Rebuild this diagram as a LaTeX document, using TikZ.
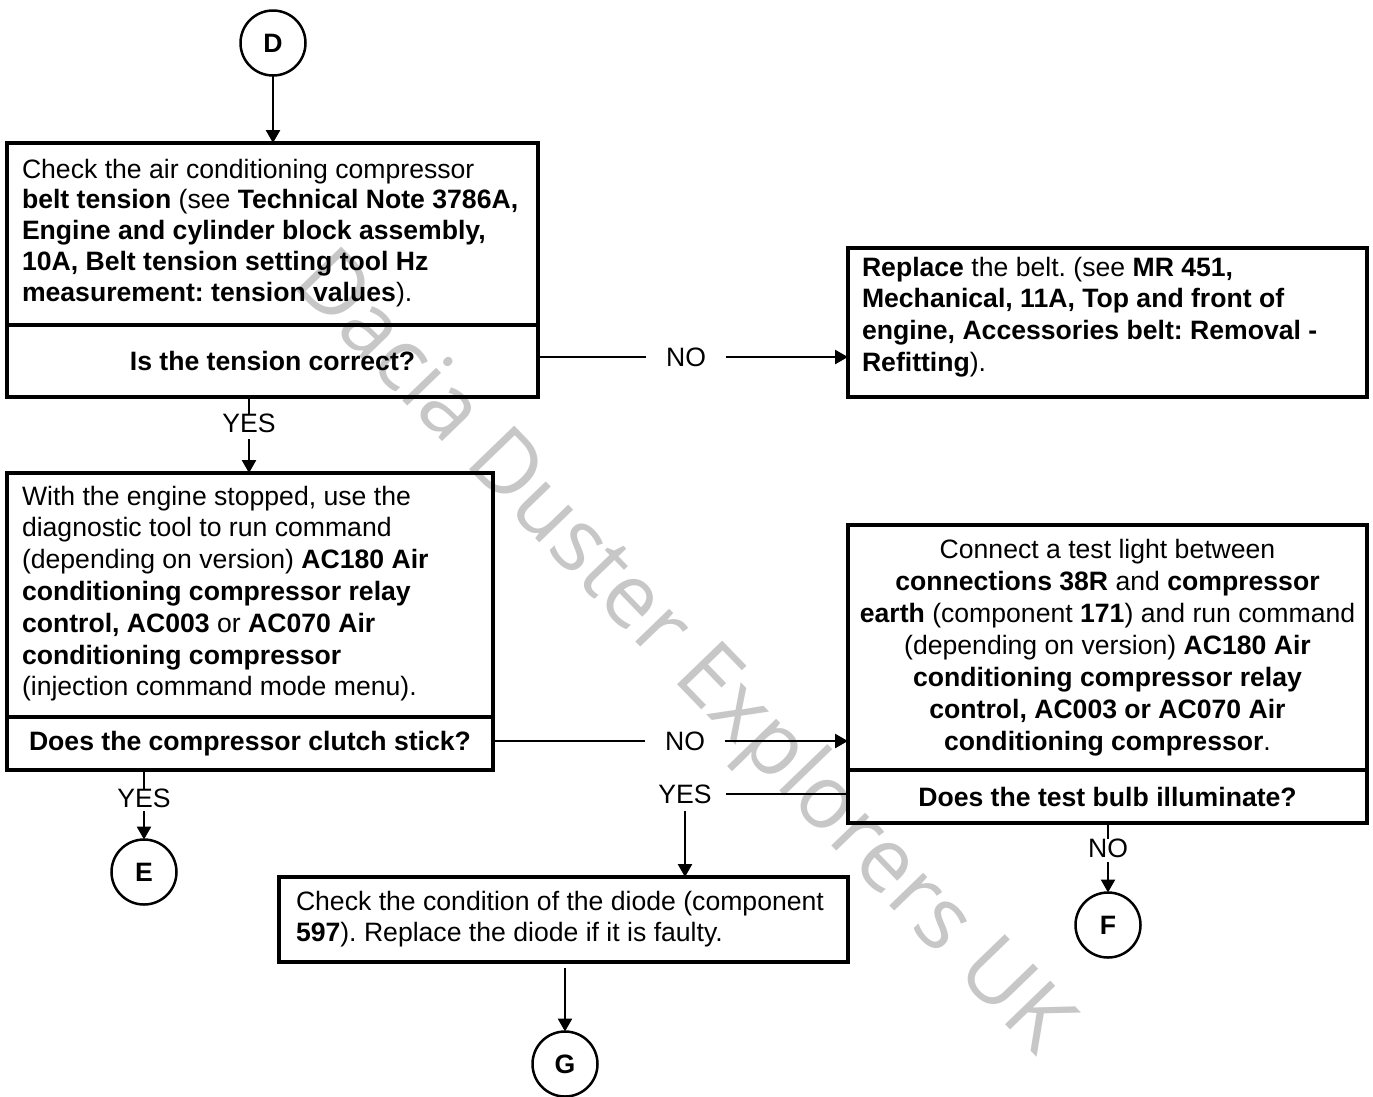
\documentclass[tikz,border=0pt]{standalone}
\usepackage{fontspec}
\setmainfont{Liberation Sans}
\newfontfamily\wmfont{Open Sans}
\usetikzlibrary{arrows.meta}
\frenchspacing
\newcommand\mainsize{\fontsize{26.6pt}{31.5pt}\selectfont}
% #1 align, #2 left pad, #3 width, #4 right pad, #5 height, #6 top gap, #7 skip, #8 text
\newcommand\boxcontent[8]{\hspace*{#2}\parbox[c][#5][t]{#3}{#1\fontsize{26.6pt}{#7}\selectfont\vspace*{#6}\rule{0pt}{20pt}#8}\hspace*{#4}}
\begin{document}
\begin{tikzpicture}[x=1pt,y=-1pt,
  every node/.style={inner sep=0pt, outer sep=0pt},
  boxnode/.style={draw, line width=3.5pt, anchor=north west},
  qnode/.style={draw, line width=3.5pt, anchor=north west, font=\mainsize\bfseries},
  circnode/.style={draw, circle, line width=2.5pt, minimum size=65pt, font=\mainsize\bfseries},
  lbl/.style={inner xsep=20pt, inner ysep=0pt, font=\mainsize},
  conn/.style={line width=2.5pt},
  arr/.style={conn, -{Triangle[length=13pt,width=14pt]}},
  wm/.style={text=black!22, font=\wmfont\fontsize{88pt}{88pt}\selectfont}
]
\useasboundingbox (0,0) rectangle (1373,1096);

% watermark (behind everything)
\node[wm, rotate=-46] (wm) at (680,655) {Dacia Duster Explorers UK};

% connector circles
\node[circnode] (D) at (273,43) {D};
\node[circnode] (E) at (144,872) {E};
\node[circnode] (F) at (1108,925) {F};
\node[circnode] (G) at (565,1064) {G};

% box 1
\node[boxnode] (b1) at (7,143) {\boxcontent{\raggedright}{15pt}{511pt}{5pt}{182pt}{15pt}{30.8pt}{%
Check the air conditioning compressor\\
\textbf{belt tension} (see \textbf{Technical Note 3786A,}\\
\textbf{Engine and cylinder block assembly,}\\
\textbf{10A, Belt tension setting tool Hz}\\
\textbf{measurement: tension values}).}};
\node[qnode, minimum width=531pt, minimum height=72pt] (q1) at (7,325) {Is the tension correct?};

% box 2
\node[boxnode] (b2) at (848,248) {\boxcontent{\raggedright}{14pt}{500pt}{5pt}{149pt}{8pt}{31.7pt}{%
\textbf{Replace} the belt. (see \textbf{MR 451,}\\
\textbf{Mechanical, 11A, Top and front of}\\
\textbf{engine, Accessories belt: Removal -}\\
\textbf{Refitting}).}};

% box 3
\node[boxnode] (b3) at (7,473) {\boxcontent{\raggedright}{15pt}{466pt}{5pt}{244pt}{12pt}{31.8pt}{%
With the engine stopped, use the\\
diagnostic tool to run command\\
(depending on version) \textbf{AC180 Air}\\
\textbf{conditioning compressor relay}\\
\textbf{control, AC003} or \textbf{AC070 Air}\\
\textbf{conditioning compressor}\\
(injection command mode menu).}};
\node[qnode, minimum width=486pt, minimum height=53pt] (q3) at (7,717) {Does the compressor clutch stick?};

% box 4
\node[boxnode] (b4) at (848,525) {\boxcontent{\centering}{8pt}{503pt}{8pt}{245pt}{13pt}{32pt}{%
Connect a test light between\\
\textbf{connections 38R} and \textbf{compressor}\\
\textbf{earth} (component \textbf{171}) and run command\\
(depending on version) \textbf{AC180 Air}\\
\textbf{conditioning compressor relay}\\
\textbf{control, AC003 or AC070 Air}\\
\textbf{conditioning compressor}.}};
\node[qnode, minimum width=519pt, minimum height=53pt] (q4) at (848,770) {Does the test bulb illuminate?};

% box 5
\node[boxnode] (b5) at (279,877) {\boxcontent{\raggedright}{17pt}{547pt}{5pt}{85pt}{13pt}{31pt}{%
Check the condition of the diode (component\\
\textbf{597}). Replace the diode if it is faulty.}};

% labels
\node[lbl] (n1) at (686,357) {NO};
\node[lbl] (n2) at (685,741) {NO};
\node[lbl] (n3) at (1108,848) {NO};
\node[lbl] (y1) at (249,423) {YES};
\node[lbl] (y2) at (144,798) {YES};
\node[lbl, inner xsep=14.5pt] (y3) at (685,794) {YES};

% connectors
\draw[arr] (D) -- (b1.north -| D);
\draw[conn] (q1.east |- n1) -- (n1);
\draw[arr] (n1) -- (b2.west |- n1);
\draw[conn] (q1.south -| y1) -- (y1.north);
\draw[arr, shorten <=7pt] (y1.south) -- (b3.north -| y1);
\draw[conn] (q3.east |- n2) -- (n2);
\draw[arr] (n2) -- (b4.west |- n2);
\draw[conn] (q3.south -| y2) -- (y2.north);
\draw[arr, shorten <=4pt] (y2.south) -- (E);
\draw[conn] (y3) -- (q4.west |- y3);
\draw[arr, shorten <=8pt] (y3.south) -- (b5.north -| y3);
\draw[conn] (q4.south -| n3) -- (n3.north);
\draw[arr, shorten <=5pt] (n3.south) -- (F);
\draw[arr, shorten <=6pt] (b5.south -| G) -- (G);
\end{tikzpicture}
\end{document}
